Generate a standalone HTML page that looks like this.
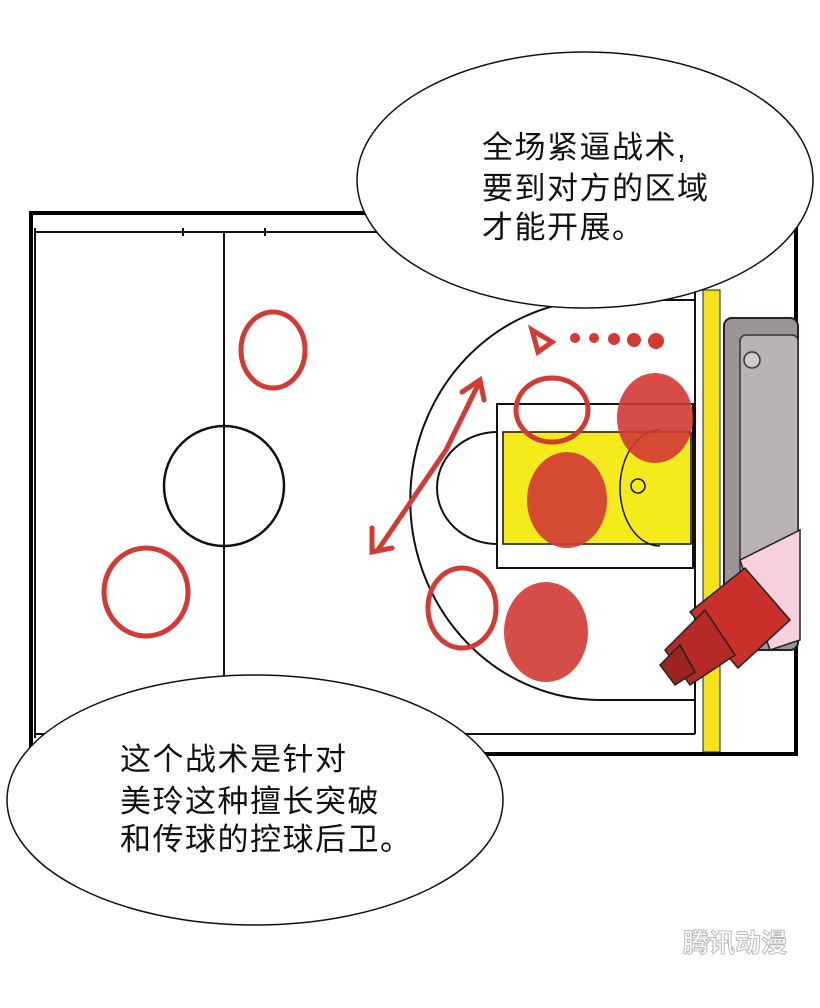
<!DOCTYPE html>
<html><head><meta charset="utf-8"><style>
html,body{margin:0;padding:0;background:#fff;}
svg{display:block}
text{font-family:"Liberation Sans","Noto Sans CJK SC",sans-serif;}
</style></head><body>
<svg width="820" height="1008" viewBox="0 0 820 1008" xmlns="http://www.w3.org/2000/svg">
<rect width="820" height="1008" fill="#fff"/>
<rect x="31" y="213" width="765" height="541" fill="#fff" stroke="#000" stroke-width="4"/>
<rect x="703" y="290" width="17" height="462" fill="#f4e21a" stroke="#222" stroke-width="1"/>
<rect x="724" y="318" width="74" height="332" rx="8" fill="#9a9499" stroke="#222" stroke-width="2"/>
<rect x="740" y="335" width="58" height="290" rx="6" fill="#b8b2b6" stroke="#333" stroke-width="1.5"/>
<circle cx="752" cy="360" r="8" fill="#ccc" stroke="#333" stroke-width="1.5"/>
<g fill="none" stroke="#111" stroke-width="2">
<line x1="35" y1="232" x2="390" y2="232"/>
<line x1="35" y1="228" x2="35" y2="738"/>
<line x1="35" y1="734" x2="695" y2="734"/>
<line x1="224" y1="232" x2="224" y2="734"/>
<line x1="183" y1="228" x2="183" y2="236"/><line x1="265" y1="228" x2="265" y2="236"/>
<circle cx="224" cy="486" r="60" stroke-width="2.5"/>
<path d="M600 300 A185 195 0 0 0 600 700"/>
<line x1="600" y1="300" x2="695" y2="300"/>
<line x1="600" y1="700" x2="695" y2="700"/>
<line x1="695" y1="290" x2="695" y2="734"/>
</g>
<rect x="497" y="404" width="196" height="164" fill="#fff" stroke="#111" stroke-width="2"/>
<rect x="503" y="432" width="188" height="112" fill="#f5ea1c" stroke="#111" stroke-width="1.5"/>
<path d="M497 432 A60 56 0 0 0 497 544" fill="none" stroke="#111" stroke-width="2"/>
<path d="M660 430 A40 58 0 0 0 660 546" fill="none" stroke="#111" stroke-width="1.5"/>
<circle cx="638" cy="486" r="7" fill="none" stroke="#111" stroke-width="1.5"/>
<g fill="none" stroke="#d23a34" stroke-width="5" stroke-linecap="round">
<ellipse cx="273" cy="350" rx="32" ry="38"/>
<ellipse cx="146" cy="592" rx="42" ry="44"/>
<ellipse cx="552" cy="410" rx="36" ry="32"/>
<ellipse cx="462" cy="608" rx="34" ry="40"/>
<path d="M478 385 L446 450 L378 550"/>
<path d="M462 392 L480 380 L484 400"/>
<path d="M372 528 L372 552 L392 548"/>
<path d="M532 330 L552 342 L538 352 Z"/>
</g>
<g fill="#d23a34">
<circle cx="575" cy="338" r="5"/><circle cx="594" cy="338" r="5"/><circle cx="614" cy="339" r="6"/><circle cx="634" cy="340" r="7"/><circle cx="656" cy="341" r="8"/>
<ellipse cx="655" cy="418" rx="38" ry="45" opacity="0.9"/>
<ellipse cx="567" cy="500" rx="40" ry="48" opacity="0.9"/>
<ellipse cx="546" cy="632" rx="42" ry="50" opacity="0.9"/>
</g>
<g stroke="#222" stroke-width="1.5">
<path d="M740 560 L800 530 L800 640 L770 650 Z" fill="#f6d0dc"/>
<path d="M690 612 L745 568 L790 620 L738 668 Z" fill="#c9302c"/>
<path d="M665 650 L705 610 L735 655 L690 685 Z" fill="#b52a26"/>
<path d="M660 665 L680 645 L695 672 L675 685 Z" fill="#9e2420"/>
</g>
<ellipse cx="585" cy="180" rx="228" ry="128" fill="#fff" stroke="#111" stroke-width="1.5"/>
<ellipse cx="255" cy="800" rx="248" ry="125" fill="#fff" stroke="#111" stroke-width="1.5"/>
<g font-size="31" fill="#111" letter-spacing="1.5">
<text x="482" y="158">全场紧逼战术,</text>
<text x="482" y="199">要到对方的区域</text>
<text x="482" y="238">才能开展。</text>
<text x="120" y="770">这个战术是针对</text>
<text x="120" y="812">美玲这种擅长突破</text>
<text x="120" y="850">和传球的控球后卫。</text>
</g>
<text x="683" y="952" font-size="26" font-weight="bold" fill="#fff" stroke="#bbb" stroke-width="1">腾讯动漫</text>
</svg>
</body></html>
